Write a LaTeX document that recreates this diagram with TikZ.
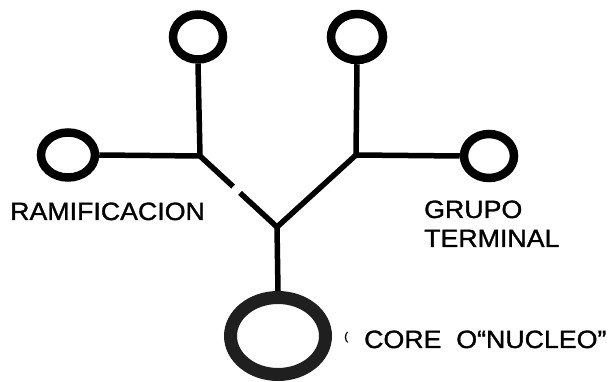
\documentclass[tikz,border=0pt]{standalone}
\usepackage{fontspec}
\usetikzlibrary{shapes.geometric,calc}
\newfontfamily\lab[FakeStretch=1.07,FakeBold=1.2]{Liberation Sans}
\begin{document}
\begin{tikzpicture}[x=1pt,y=-1pt,
  bond/.style={line width=5.5pt, black},
  smallring/.style={ellipse, draw=black, line width=8.5pt, inner sep=0pt, fill=white},
  bigring/.style={ellipse, draw=black!88, line width=13pt, inner sep=0pt, fill=white},
  lbl/.style={font=\lab\fontsize{25}{29}\selectfont, inner sep=0pt, anchor=base west}]
\useasboundingbox (0,0) rectangle (614,382);
% junctions
\coordinate (jl) at (200,156);
\coordinate (jr) at (356,155);
\coordinate (jy) at (277,227);
% rings
\node[smallring, minimum width=50pt, minimum height=45pt] (tl) at (198,37) {};
\node[smallring, minimum width=52pt, minimum height=46pt] (tr) at (357,37) {};
\node[smallring, minimum width=54pt, minimum height=45pt] (l) at (68,155) {};
\node[smallring, minimum width=50pt, minimum height=44pt] (r) at (489,156) {};
\node[bigring, minimum width=95pt, minimum height=77pt] (core) at (278,336) {};
% bonds
\coordinate (g1) at ($(jl)!0.43!(jy)$);
\coordinate (g2) at ($(jl)!0.52!(jy)$);
\draw[bond] (tl.south) -- (jl);
\draw[bond] (l.east) -- (jl);
\draw[bond, line cap=butt] (jl) -- (g1);
\draw[bond, line cap=butt] (g2) -- (jy);
\draw[bond] (tr.south) -- (jr);
\draw[bond] (r.west) -- (jr);
\draw[bond, line join=miter] (jr) -- (jy) -- (core.north);
% labels
\node[lbl] (ram) at (10,220) {RAMIFICACION};
\node[lbl] (gru) at (424,218) {GRUPO};
\node[lbl] (ter) at (424,247) {TERMINAL};
\node[lbl] (cor) at (364,348) {CORE\ \ O“NUCLEO”};
\node[font=\lab\fontsize{11}{12}\selectfont, inner sep=0pt, anchor=base west] (par) at (344,340) {(};
\end{tikzpicture}
\end{document}
